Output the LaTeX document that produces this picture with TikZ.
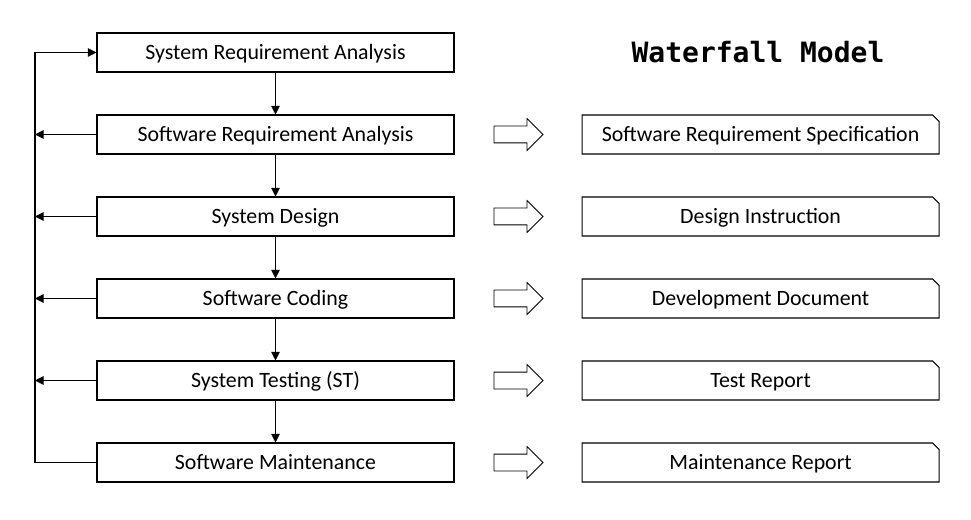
\documentclass[tikz,border=0pt]{standalone}
\usepackage{fontspec}
\setmainfont{Carlito}
\newfontfamily\titlefont{DejaVu Sans Mono}
\usepackage{tikz}
\usetikzlibrary{positioning,shapes.misc,shapes.arrows,arrows.meta}

\begin{document}
\begin{tikzpicture}[x=0.75pt,y=-0.75pt,
	node distance=31.45pt,
	phase/.style = {draw, line width=0.8pt, rectangle, minimum width=267.75pt, minimum height=29.25pt, inner sep=0pt, text height=10.8pt, text depth=0pt, font=\fontsize{16.4pt}{19pt}\selectfont},
	doc/.style = {draw, line width=0.8pt, chamfered rectangle, chamfered rectangle corners=north east, chamfered rectangle xsep=2.4pt, chamfered rectangle ysep=2.4pt, minimum width=267.75pt, minimum height=29.25pt, inner sep=0pt, text height=10.8pt, text depth=0pt, font=\fontsize{16.4pt}{19pt}\selectfont},
	outarrow/.style = {draw, line width=0.6pt, single arrow, single arrow head extend=5.6pt, inner sep=6pt, minimum height=36.75pt},
	flow/.style = {line width=0.8pt, -{Triangle[length=6.5pt,width=6.5pt]}}]
			\useasboundingbox (0,0) rectangle (971,520);
			\node[font=\titlefont\bfseries\fontsize{21pt}{24pt}\selectfont] (title) at (758,52) {Waterfall Model};
			\node[phase] (b1) at (275.5,52.5) {System Requirement Analysis};
			\node[phase, below=of b1] (b2) {Software Requirement Analysis};
			\node[phase, below=of b2] (b3) {System Design};
			\node[phase, below=of b3] (b4) {Software Coding};
			\node[phase, below=of b4] (b5) {System Testing (ST)};
			\node[phase, below=of b5] (b6) {Software Maintenance};
			\coordinate (loop) at (35,52.5);
			\draw[flow] (b1)--(b2);
			\draw[flow] (b2)--(b3);
			\draw[flow] (b3)--(b4);
			\draw[flow] (b4)--(b5);
			\draw[flow] (b5)--(b6);
			\draw[flow] (b2.west)--(b2.west -| loop);
			\draw[flow] (b3.west)--(b3.west -| loop);
			\draw[flow] (b4.west)--(b4.west -| loop);
			\draw[flow] (b5.west)--(b5.west -| loop);
			\draw[flow] (b6.west)--(b6.west -| loop)--(loop)--(b1.west);
			\node[outarrow, right=29.25pt of b2] (a2) {};
			\node[outarrow, right=29.25pt of b3] (a3) {};
			\node[outarrow, right=29.25pt of b4] (a4) {};
			\node[outarrow, right=29.25pt of b5] (a5) {};
			\node[outarrow, right=29.25pt of b6] (a6) {};
			\node[doc, right=95.25pt of b2] (d2) {Software Requirement Specification};
			\node[doc, right=95.25pt of b3] (d3) {Design Instruction};
			\node[doc, right=95.25pt of b4] (d4) {Development Document};
			\node[doc, right=95.25pt of b5] (d5) {Test Report};
			\node[doc, right=95.25pt of b6] (d6) {Maintenance Report};
		\end{tikzpicture}
\end{document}
